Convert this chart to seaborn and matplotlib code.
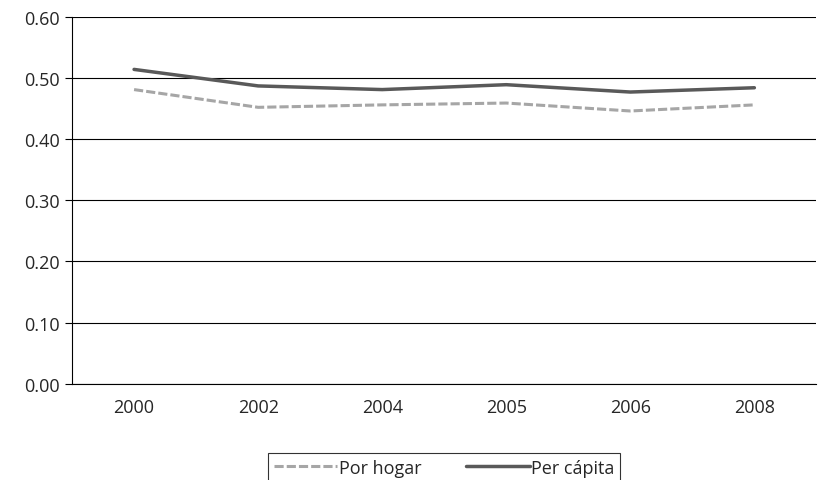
import matplotlib
matplotlib.use('Agg')
import matplotlib.pyplot as plt
import seaborn as sns
import pandas as pd

years = ['2000', '2002', '2004', '2005', '2006', '2008']
por_hogar = [0.481, 0.452, 0.456, 0.459, 0.446, 0.456]
per_capita = [0.514, 0.487, 0.481, 0.489, 0.477, 0.484]

sns.set_style('white')
plt.rcParams['font.family'] = ['Open Sans', 'DejaVu Sans']

df = pd.DataFrame({'x': range(len(years)), 'hogar': por_hogar, 'capita': per_capita})

fig, ax = plt.subplots(figsize=(8.28, 4.81), dpi=100)
fig.subplots_adjust(left=0.087, right=0.986, top=0.963, bottom=0.2)
sns.lineplot(data=df, x='x', y='hogar', ax=ax, color='#a6a6a6', lw=2.2,
             linestyle=(0, (3, 1)), label='Por hogar')
sns.lineplot(data=df, x='x', y='capita', ax=ax, color='#595959', lw=2.5,
             label='Per cápita')

ax.set_xlim(-0.5, len(years) - 0.5)
ax.set_ylim(0, 0.6)
ax.set_yticks([i / 10 for i in range(7)])
ax.set_yticklabels([f'{i / 10:.2f}' for i in range(7)], fontsize=13)
ax.set_xticks(range(len(years)))
ax.set_xticklabels(years, fontsize=13)
ax.tick_params(axis='x', length=0, pad=10)
ax.set_xticks([i - 0.5 for i in range(len(years) + 1)], minor=True)
ax.tick_params(axis='x', which='minor', length=6, color='black')
ax.tick_params(axis='y', length=5, color='black', left=True)
ax.yaxis.grid(True, color='black', lw=0.8)
ax.set_axisbelow(True)
for s in ['top', 'right']:
    ax.spines[s].set_visible(False)
for s in ['left', 'bottom']:
    ax.spines[s].set_color('black')
ax.set_xlabel('')
ax.set_ylabel('')
leg = ax.legend(loc='upper center', bbox_to_anchor=(0.5, -0.165), ncol=2,
                frameon=True, fancybox=False, fontsize=13, handlelength=3.5,
                handletextpad=0.1, columnspacing=2.5, borderpad=0.3)
leg.get_frame().set_edgecolor('black')
leg.get_frame().set_linewidth(0.8)
fig.savefig('out.png')
